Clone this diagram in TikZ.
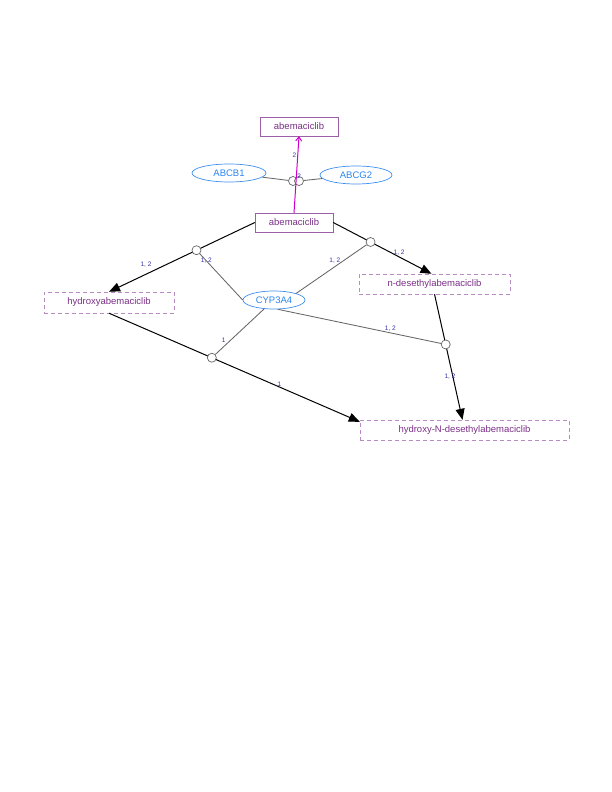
\documentclass[tikz,border=0pt]{standalone}
\usepackage{fontspec}
\setmainfont{Liberation Sans}
\usetikzlibrary{arrows.meta,shapes.geometric}
\definecolor{molline}{HTML}{9B5FA8}
\definecolor{molxline}{HTML}{B98AC4}
\definecolor{moltext}{HTML}{7A2F86}
\definecolor{protline}{HTML}{3D8EF0}
\definecolor{prottext}{HTML}{2A85F0}
\definecolor{labblue}{HTML}{3333AA}
\definecolor{transp}{HTML}{CC00CC}
\begin{document}
\begin{tikzpicture}[x=1pt,y=-1pt,font=\fontsize{9.5}{11}\selectfont,
mol/.style={draw=molline,text=moltext,minimum height=19pt,inner sep=0pt},
molx/.style={mol,draw=molxline,dash pattern=on 4pt off 3pt},
prot/.style={ellipse,draw=protline,line width=0.7pt,text=prottext,inner sep=0pt,minimum height=18pt},
proc/.style={circle,draw=black!60,line width=0.7pt,fill=white,minimum size=9pt,inner sep=0pt},
rxn/.style={draw=black,line width=1pt,-{Triangle[length=11pt,width=9pt]}},
tr/.style={draw=transp,line width=1pt,-{Straight Barb[length=4pt,width=6pt]}},
modif/.style={draw=black!60,line width=0.85pt},
lab/.style={font=\fontsize{6.5}{7}\selectfont,text=labblue,inner sep=1pt}]
\useasboundingbox (0,0) rectangle (612,792);
\node[mol,minimum width=78pt] (top) at (299,126.5) {abemaciclib};
\node[prot,minimum width=74pt] (abcb) at (229,173) {ABCB1};
\node[prot,minimum width=72pt] (abcg) at (356,175) {ABCG2};
\node[mol,minimum width=78pt] (abem) at (294,222.5) {abemaciclib};
\node[molx,minimum width=130pt,minimum height=21pt] (hydr) at (109,302.5) {hydroxyabemaciclib};
\node[molx,minimum width=151pt,minimum height=20pt] (ndes) at (434.5,284) {n-desethylabemaciclib};
\node[molx,minimum width=209pt,minimum height=20pt] (hnd) at (464.5,430) {hydroxy-N-desethylabemaciclib};
\node[prot,minimum width=62pt] (cyp) at (274,300) {CYP3A4};
\node[proc] (t1) at (293,181) {};
\node[proc] (t2) at (299,181) {};
\draw[tr] (abem.north) -- node[lab,pos=0.75,left]{2} node[lab,pos=0.48,anchor=west,inner sep=0.5pt]{2} (top.south);
\draw[rxn] (abem.west) -- node[proc,pos=0.40] (p1) {} node[lab,pos=0.76,above=6pt,xshift=2pt]{1, 2} (hydr.north);
\draw[rxn] (abem.east) -- node[proc,pos=0.38] (p2) {} node[lab,pos=0.67,above=0pt]{1, 2} ([xshift=-3pt]ndes.north);
\draw[rxn] (ndes.south) -- node[proc,pos=0.40] (p3) {} node[lab,pos=0.66,xshift=-3pt]{1, 2} ([xshift=-2pt]hnd.north);
\draw[rxn] (hydr.south) -- node[proc,pos=0.41] (p4) {} node[lab,pos=0.68,above=-1pt]{1} ([yshift=-2pt]hnd.north west);
\foreach \x/\y in {abcb/t1,abcg/t2}{\draw[modif] (\x)--(\y);}
\draw[modif] (p1) -- node[lab,pos=0.15]{1, 2} (cyp.west);
\draw[modif] (p2) -- node[lab,pos=0.45,above=2pt]{1, 2} (cyp.north east);
\draw[modif] (p3) -- node[lab,pos=0.31,above=0pt]{1, 2} (cyp.292);
\draw[modif] (p4) -- node[lab,pos=0.32,left=4pt]{1} (cyp.222);
\end{tikzpicture}
\end{document}
